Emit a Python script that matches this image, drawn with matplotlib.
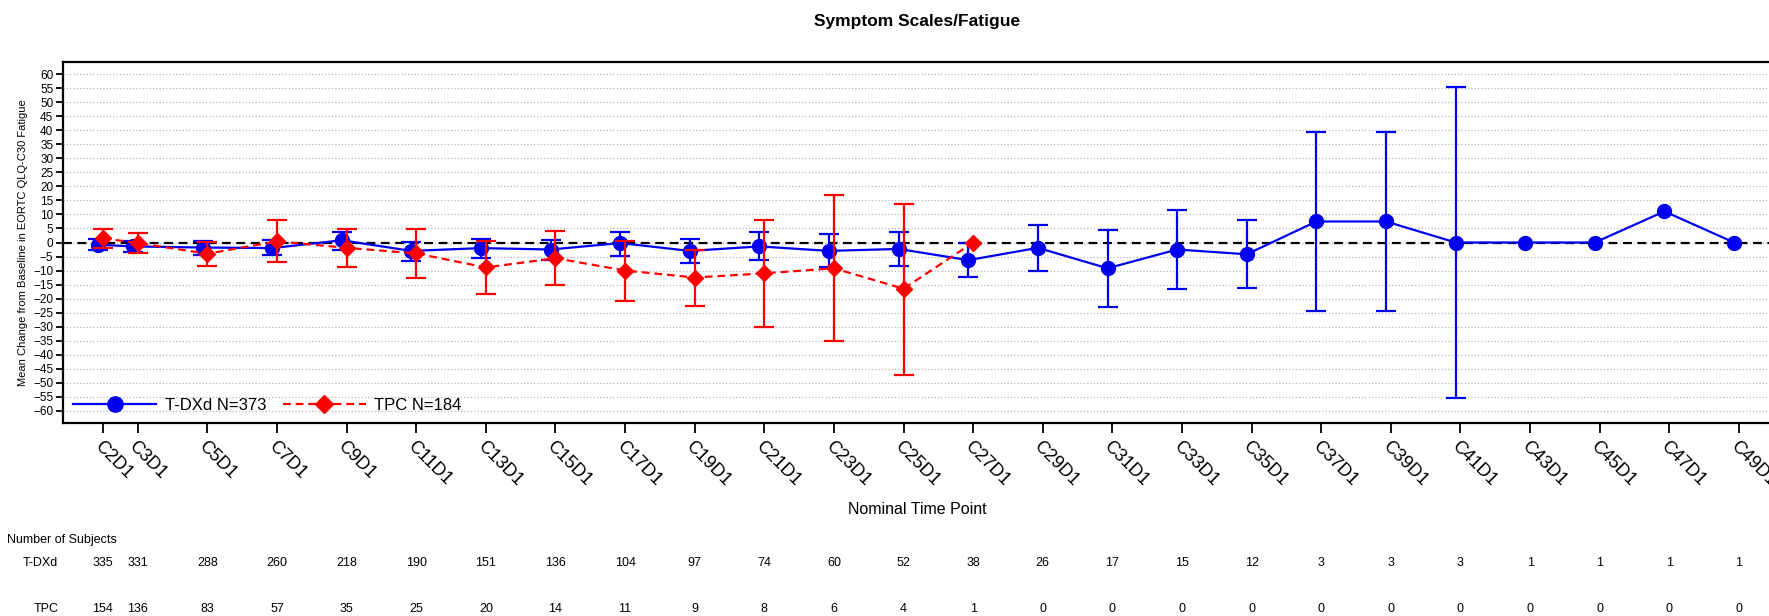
import numpy as np
import matplotlib
matplotlib.use("Agg")
import matplotlib.pyplot as plt
import matplotlib.transforms as mtransforms
from matplotlib.lines import Line2D

plt.rcParams['font.family'] = ['Liberation Sans', 'DejaVu Sans']

# visits and cycle numbers
visits = ['C2D1', 'C3D1', 'C5D1', 'C7D1', 'C9D1', 'C11D1', 'C13D1', 'C15D1',
          'C17D1', 'C19D1', 'C21D1', 'C23D1', 'C25D1', 'C27D1', 'C29D1', 'C31D1',
          'C33D1', 'C35D1', 'C37D1', 'C39D1', 'C41D1', 'C43D1', 'C45D1', 'C47D1', 'C49D1']
cycle = [2, 3, 5, 7, 9, 11, 13, 15, 17, 19, 21, 23, 25, 27, 29, 31,
         33, 35, 37, 39, 41, 43, 45, 47, 49]

# T-DXd mean change and 95% CI
tdxd_mean = [-0.8, -1.4, -1.8, -2.0, 0.8, -3.0, -2.0, -2.5, -0.2, -3.0, -1.4, -3.0, -2.3,
             -6.3, -1.9, -9.2, -2.5, -4.2, 7.5, 7.5, 0.0, 0.0, 0.0, 11.1, 0.0]
tdxd_low = [-2.7, -3.5, -4.6, -4.6, -2.5, -6.5, -5.5, -6.2, -4.8, -7.3, -6.2, -8.7, -8.3,
            -12.4, -10.2, -22.9, -16.7, -16.4, -24.5, -24.5, -55.4, np.nan, np.nan, np.nan, np.nan]
tdxd_high = [1.3, 0.6, 0.6, 0.8, 3.7, 0.2, 1.4, 0.8, 3.8, 1.3, 3.6, 2.9, 3.9,
             -0.1, 6.4, 4.5, 11.5, 8.1, 39.5, 39.5, 55.4, np.nan, np.nan, np.nan, np.nan]

# TPC mean change and 95% CI
tpc_mean = [1.5, -0.2, -4.0, 0.4, -1.9, -3.9, -8.9, -5.6, -10.0, -12.5, -11.0, -9.2, -16.5, 0.0]
tpc_low = [-1.8, -3.9, -8.3, -7.1, -8.6, -12.6, -18.2, -15.2, -20.8, -22.5, -30.2, -35.2, -47.3, np.nan]
tpc_high = [4.8, 3.5, 0.3, 7.9, 4.8, 4.8, 0.4, 4.0, 0.6, -2.5, 8.1, 16.8, 13.8, np.nan]

# number of subjects
n_tdxd = [335, 331, 288, 260, 218, 190, 151, 136, 104, 97, 74, 60, 52, 38, 26, 17,
          15, 12, 3, 3, 3, 1, 1, 1, 1]
n_tpc = [154, 136, 83, 57, 35, 25, 20, 14, 11, 9, 8, 6, 4, 1, 0, 0,
         0, 0, 0, 0, 0, 0, 0, 0, 0]

W, H = 1769, 616
fig = plt.figure(figsize=(W / 100, H / 100), dpi=100)
ax = fig.add_axes([63 / W, (H - 423) / H, 1709 / W, 361 / H])

x = np.array(cycle, dtype=float)
xt = x - 0.14
xp = x[:len(tpc_mean)]

tm = np.array(tdxd_mean)
terr = [tm - np.array(tdxd_low), np.array(tdxd_high) - tm]
pm = np.array(tpc_mean)
perr = [pm - np.array(tpc_low), np.array(tpc_high) - pm]

blue = '#0000ee'
red = '#ff0000'
tpc_ls = (0, (3.5, 2.2))

ax.axhline(0, color='black', lw=1.6, ls=(0, (4, 2.5)), zorder=2)

ax.errorbar(xt, tm, yerr=terr, color=blue, marker='o', ms=10, lw=1.6,
            elinewidth=1.6, capsize=7, capthick=1.6, zorder=3)
ax.errorbar(xp, pm, yerr=perr, color=red, marker='D', ms=8.5, lw=1.6,
            ls=tpc_ls, elinewidth=1.6, capsize=7, capthick=1.6, zorder=4)

ax.set_xlim(0.851, 49.95)
ax.set_ylim(-64.4, 64.4)
ax.set_yticks(np.arange(-60, 61, 5))
ax.yaxis.grid(True, color='#b8b8b8', ls=':', lw=0.9)
ax.set_axisbelow(True)

ax.set_xticks(x)
ax.set_xticklabels(visits, rotation=-45, ha='left', va='top',
                   rotation_mode='anchor', fontsize=13)
ax.tick_params(axis='x', length=7, width=1.3, pad=4)
ax.tick_params(axis='y', length=5, width=1.3, labelsize=8.5, pad=2)
for s in ax.spines.values():
    s.set_linewidth(1.6)

ax.set_ylabel('Mean Change from Baseline in EORTC QLQ-C30 Fatigue', fontsize=8, labelpad=4)
ax.set_title('Symptom Scales/Fatigue', fontsize=12.5, fontweight='bold', pad=26)
ax.set_xlabel('Nominal Time Point', fontsize=11.5, labelpad=9)

handles = [Line2D([], [], color=blue, marker='o', ms=11, lw=1.6),
           Line2D([], [], color=red, marker='D', ms=9.5, lw=1.6, ls=tpc_ls)]
ax.legend(handles, ['T-DXd N=373', 'TPC N=184'], loc='lower left', ncol=2,
          frameon=False, fontsize=12, handlelength=5.0, borderaxespad=0.2,
          columnspacing=1.0, handletextpad=0.5)

# number of subjects table
tr = mtransforms.blended_transform_factory(ax.transData, fig.transFigure)
narrow = ['Liberation Sans Narrow', 'Liberation Sans', 'DejaVu Sans']
fs = 9
fig.text(7 / W, 1 - 540 / H, 'Number of Subjects', fontsize=fs, family=narrow, va='center')
fig.text(40 / W, 1 - 563 / H, 'T-DXd', fontsize=fs, family=narrow, va='center', ha='center')
fig.text(46 / W, 1 - 609 / H, 'TPC', fontsize=fs, family=narrow, va='center', ha='center')
for xi, a, b in zip(x, n_tdxd, n_tpc):
    fig.text(xi, 1 - 563 / H, str(a), transform=tr, fontsize=fs, family=narrow,
             va='center', ha='center')
    fig.text(xi, 1 - 609 / H, str(b), transform=tr, fontsize=fs, family=narrow,
             va='center', ha='center')

fig.savefig('out.png', dpi=100)
